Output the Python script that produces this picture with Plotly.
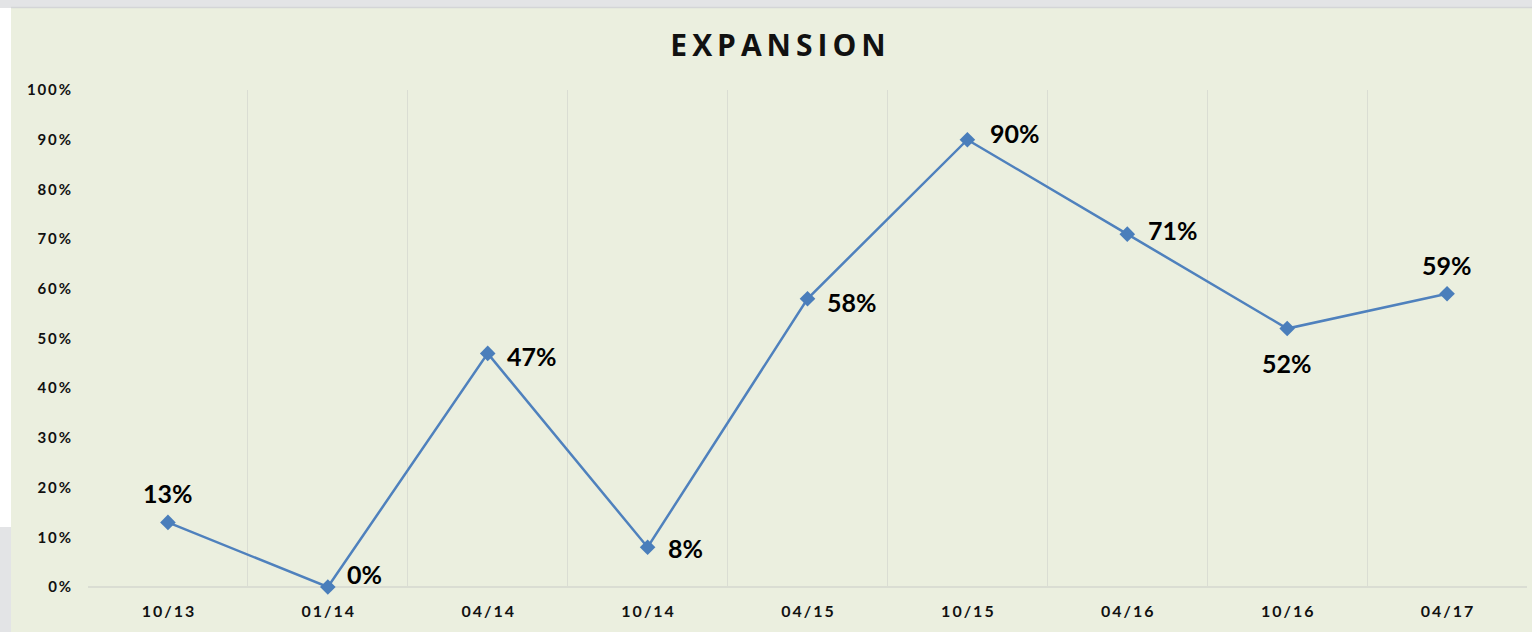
import plotly.graph_objects as go

# data
periods = ["10/13", "01/14", "04/14", "10/14", "04/15", "10/15", "04/16", "10/16", "04/17"]
expansion = [0.13, 0.00, 0.47, 0.08, 0.58, 0.90, 0.71, 0.52, 0.59]
y_ticks = [0, 0.1, 0.2, 0.3, 0.4, 0.5, 0.6, 0.7, 0.8, 0.9, 1.0]

# label placement (anchor, x offset px, y offset px) for each point
lab_anchor = ["center", "left", "left", "left", "left", "left", "left", "center", "center"]
lab_dx = [0, 17, 17, 18, 17, 21, 19, 0, 0]
lab_dy = [29, 13, -3, -1, -3, 7, 4, -34, 29]

TS = "\u2009"  # thin space, fakes the letter spacing of the original


def spaced(s):
    return TS.join(s)


xs = list(range(len(periods)))

fig = go.Figure()
fig.add_trace(go.Scatter(
    x=xs,
    y=expansion,
    mode="lines+markers",
    line=dict(color="#4F81BD", width=2.5),
    marker=dict(symbol="diamond", size=12, color="#4A7EBB"),
    cliponaxis=False,
    showlegend=False,
    hoverinfo="skip",
))

for i, v in enumerate(expansion):
    fig.add_annotation(
        x=xs[i], y=v,
        text="%d%%" % round(v * 100),
        showarrow=False,
        xanchor=lab_anchor[i], yanchor="middle",
        xshift=lab_dx[i], yshift=lab_dy[i],
        font=dict(size=25, color="#000000", family="Lato", weight="bold"),
    )

W, H = 1532, 632
ml, mr, mt, mb = 88, 5, 90, 45
pw, ph = W - ml - mr, H - mt - mb


def px(x):
    return (x - ml) / pw


def py(y):
    return (H - mb - y) / ph


fig.update_layout(
    width=W,
    height=H,
    margin=dict(l=ml, r=mr, t=mt, b=mb),
    paper_bgcolor="#E3E4E6",
    plot_bgcolor="#EBEFDF",
    title=dict(
        text=spaced("EXPANSION"),
        x=778 / W,
        xref="container",
        xanchor="center",
        y=1 - 45 / H,
        yref="container",
        yanchor="middle",
        font=dict(size=30, color="#111111", family="Open Sans", weight="bold"),
    ),
    shapes=[
        # white strip on the left edge
        dict(type="rect", xref="paper", yref="paper", layer="below",
             x0=px(0), x1=px(11), y0=py(527), y1=py(8),
             fillcolor="#FFFFFF", line=dict(width=0)),
        # green chart panel
        dict(type="rect", xref="paper", yref="paper", layer="below",
             x0=px(11), x1=px(W + 2), y0=py(H + 2), y1=py(8),
             fillcolor="#EBEFDF", line=dict(width=0)),
        # top frame line
        dict(type="line", xref="paper", yref="paper", layer="below",
             x0=px(11), x1=px(W + 2), y0=py(7.5), y1=py(7.5),
             line=dict(color="#D4D5D7", width=1.5)),
    ],
    xaxis=dict(
        range=[-0.5, len(periods) - 0.5],
        tickmode="array",
        tickvals=xs,
        ticktext=[spaced(p) for p in periods],
        tickfont=dict(size=16, color="#111111", family="Lato", weight="bold"),
        ticks="",
        showgrid=False,
        zeroline=False,
        showline=False,
        ticklabelstandoff=13,
        minor=dict(tickmode="linear", tick0=-0.5, dtick=1, showgrid=True,
                   gridcolor="#DADDD3", gridwidth=1, ticks=""),
    ),
    yaxis=dict(
        range=[0, 1],
        tickmode="array",
        tickvals=y_ticks,
        ticktext=[spaced("%d%%" % round(v * 100)) for v in y_ticks],
        tickfont=dict(size=15, color="#111111", family="Lato", weight="bold"),
        showgrid=False,
        zeroline=True,
        zerolinecolor="#DADDD3",
        zerolinewidth=1.5,
        showline=False,
        ticks="",
        ticklabelstandoff=16,
    ),
)

fig.write_html("out.html", config={"displayModeBar": False},
               post_script="document.body.style.margin='0';")
